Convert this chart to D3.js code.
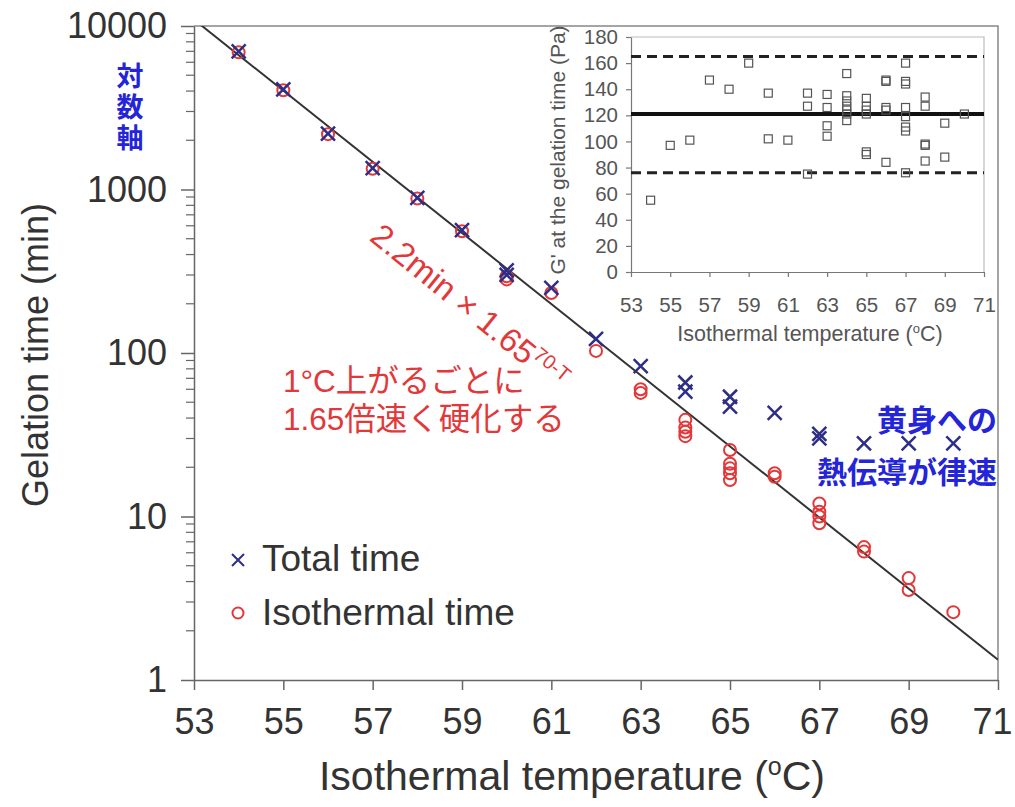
<!DOCTYPE html>
<html>
<head>
<meta charset="utf-8">
<script src="https://cdn.jsdelivr.net/npm/d3@7"></script>
<style>
  body { margin: 0; background: #fff; }
  text { font-family: "Liberation Sans", Arial, "Noto Sans CJK JP", sans-serif; }
  .axis text { fill: #333; }
  .axis path, .axis line { stroke: #666; stroke-width: 1.5; }
  .inset .axis text { fill: #555; }
  .inset .axis path, .inset .axis line { stroke: #777; stroke-width: 1.2; }
</style>
</head>
<body>
<svg class="gel"></svg>
<script>
// gelation time (min) for each run
let totalTemp = [54, 55, 56, 57, 58, 59, 60, 60, 61, 62, 63, 64, 64, 65, 65, 66, 67, 67, 68, 69, 70]
let totalTime = [7000, 4100, 2200, 1350, 890, 565, 320, 300, 250, 122, 83, 66, 58, 54, 47, 43, 32, 30, 28, 28, 28]

let isoTemp = [54, 55, 56, 57, 58, 59, 60, 60, 61, 62, 63, 63, 64, 64, 64, 64, 65, 65, 65, 65, 65, 66, 66, 67, 67, 67, 67, 68, 68, 69, 69, 70]
let isoTime = [6900, 4050, 2180, 1340, 880, 555, 295, 282, 233, 103, 60, 57, 39, 35, 33, 31, 25.5, 21, 19.7, 18.4, 16.7, 18.4, 17.5, 12, 10.7, 10, 9.1, 6.5, 6.1, 4.2, 3.55, 2.6]

// fitted line 2.2min x 1.65^(70-T), its two end points
let fitTemp = [53, 71]
let fitTime = [10950, 1.33]

let xTicks = [53, 55, 57, 59, 61, 63, 65, 67, 69, 71]
let yTicks = [1, 10, 100, 1000, 10000]

// inset: G' at the gelation time (Pa)
let gTemp = [54, 55, 56, 57, 58, 59, 60, 60, 61, 62, 62, 62, 63, 63, 63, 63,
  64, 64, 64, 64, 64, 64, 64, 65, 65, 65, 65, 65, 65, 66, 66, 66, 66, 66,
  67, 67, 67, 67, 67, 67, 67, 67, 68, 68, 68, 68, 68, 69, 69, 70]
let gValue = [55, 97, 101, 147, 140, 160, 137, 102, 101, 137, 127, 75, 136, 126, 112, 104,
  152, 135, 131, 127, 124, 121, 116, 133, 127, 124, 121, 92, 90, 147, 146, 126, 124, 84,
  160, 146, 144, 126, 119, 111, 108, 76, 134, 127, 98, 97, 85, 114, 88, 121]
let gMean = 121
let gBounds = [165, 76]
let gTicksY = [0, 20, 40, 60, 80, 100, 120, 140, 160, 180]

let W = 1015, H = 807
let margin = { top: 26, right: 17, bottom: 127, left: 194 }

let svg = d3.select('.gel').attr('width', W).attr('height', H)

let x = d3.scaleLinear().domain([53, 71]).range([margin.left, W - margin.right])
let y = d3.scaleLog().domain([1, 10000]).range([H - margin.bottom, margin.top])

let navy = '#2e2e86', red = '#e2383a', blue = '#2424d8'

// clip for the fit line
svg.append('clipPath').attr('id', 'plotclip')
  .append('rect')
  .attr('x', x(53)).attr('y', y(10000))
  .attr('width', x(71) - x(53)).attr('height', y(1) - y(10000))

// frame (top and right)
svg.append('path')
  .attr('d', `M${x(53)},${y(10000)}H${x(71)}V${y(1)}`)
  .attr('fill', 'none').attr('stroke', '#888').attr('stroke-width', 1.5)

// axes
let xAxis = svg.append('g').attr('class', 'axis x')
  .attr('transform', 'translate(0,' + y(1) + ')')
  .call(d3.axisBottom(x).tickValues(xTicks).tickSize(10).tickPadding(18).tickSizeOuter(0))
xAxis.selectAll('text').attr('font-size', 36)
  .attr('dx', d => d === 71 ? -6 : 0)

svg.append('g').attr('class', 'axis y')
  .attr('transform', 'translate(' + x(53) + ',0)')
  .call(d3.axisLeft(y).tickValues(yTicks).tickFormat(d3.format('d')).tickSize(13).tickPadding(14).tickSizeOuter(0))
  .selectAll('text').attr('font-size', 36)

// minor log ticks
let minor = []
yTicks.slice(0, -1).forEach(d => { for (let k = 2; k < 10; k++) minor.push(d * k) })
svg.append('g').selectAll('line').data(minor).enter().append('line')
  .attr('x1', x(53) - 8).attr('x2', x(53))
  .attr('y1', d => y(d)).attr('y2', d => y(d))
  .attr('stroke', '#666').attr('stroke-width', 1.2)

// axis titles
svg.append('text')
  .attr('transform', 'translate(35,355) rotate(-90)')
  .attr('text-anchor', 'middle').attr('dy', '0.35em')
  .attr('font-size', 36).attr('fill', '#333')
  .text('Gelation time (min)')

let xTitle = svg.append('text')
  .attr('x', 572).attr('y', 790)
  .attr('text-anchor', 'middle')
  .attr('font-size', 41).attr('fill', '#333')
xTitle.append('tspan').text('Isothermal temperature (')
xTitle.append('tspan').attr('font-size', 25).attr('dy', -15).text('o')
xTitle.append('tspan').attr('dy', 15).text('C)')

// fit line
svg.append('path')
  .datum(fitTemp.map((t, i) => [t, fitTime[i]]))
  .attr('clip-path', 'url(#plotclip)')
  .attr('d', d3.line().x(d => x(d[0])).y(d => y(d[1])))
  .attr('fill', 'none').attr('stroke', '#333').attr('stroke-width', 2)

// isothermal time circles
svg.append('g').selectAll('circle')
  .data(isoTemp.map((t, i) => ({ t: t, v: isoTime[i] })))
  .enter().append('circle')
  .attr('cx', d => x(d.t)).attr('cy', d => y(d.v)).attr('r', 6)
  .attr('fill', 'none').attr('stroke', red).attr('stroke-width', 2)

// total time crosses
let cross = 'M-7,-7L7,7M-7,7L7,-7'
svg.append('g').selectAll('path')
  .data(totalTemp.map((t, i) => ({ t: t, v: totalTime[i] })))
  .enter().append('path')
  .attr('transform', d => 'translate(' + x(d.t) + ',' + y(d.v) + ')')
  .attr('d', cross)
  .attr('fill', 'none').attr('stroke', navy).attr('stroke-width', 2.5)

// legend
svg.append('path').attr('transform', 'translate(238,560)')
  .attr('d', 'M-6,-6L6,6M-6,6L6,-6').attr('stroke', navy).attr('stroke-width', 2)
svg.append('circle').attr('cx', 238).attr('cy', 613).attr('r', 5.5)
  .attr('fill', 'none').attr('stroke', red).attr('stroke-width', 2)
svg.append('text').attr('x', 262).attr('y', 571).attr('font-size', 37).attr('fill', '#333').text('Total time')
svg.append('text').attr('x', 262).attr('y', 625).attr('font-size', 37).attr('fill', '#333').text('Isothermal time')

// annotations
;['対', '数', '軸'].forEach((c, i) => {
  svg.append('text').attr('x', 130).attr('y', 86 + i * 31)
    .attr('text-anchor', 'middle').attr('font-size', 27).attr('font-weight', 'bold')
    .attr('fill', blue).text(c)
})

let formula = svg.append('text')
  .attr('transform', 'translate(453,294) rotate(39)')
  .attr('font-size', 33).attr('fill', red)
formula.append('tspan').attr('x', -100).attr('y', 11).text('2.2min \u00D7 1.65')
formula.append('tspan').attr('font-size', 20).attr('dy', -12).text('70-T')

svg.append('text').attr('x', 283).attr('y', 392).attr('font-size', 31.5).attr('fill', red).text('1°C上がるごとに')
svg.append('text').attr('x', 283).attr('y', 430).attr('font-size', 31.5).attr('fill', red).text('1.65倍速く硬化する')

svg.append('text').attr('x', 997).attr('y', 431).attr('text-anchor', 'end')
  .attr('font-size', 30).attr('font-weight', 'bold').attr('fill', blue).text('黄身への')
svg.append('text').attr('x', 997).attr('y', 483).attr('text-anchor', 'end')
  .attr('font-size', 30).attr('font-weight', 'bold').attr('fill', blue).text('熱伝導が律速')

// ---- inset ----
let inset = svg.append('g').attr('class', 'inset')
let gx = d3.scaleLinear().domain([53, 71]).range([631, 984])
let gy = d3.scaleLinear().domain([0, 180]).range([272, 37])

inset.append('path')
  .attr('d', `M${gx(53)},${gy(180)}H${gx(71)}V${gy(0)}`)
  .attr('fill', 'none').attr('stroke', '#bbb').attr('stroke-width', 1.2)

inset.append('g').attr('class', 'axis')
  .attr('transform', 'translate(0,' + gy(0) + ')')
  .call(d3.axisBottom(gx).tickValues(xTicks).tickSize(5).tickPadding(20).tickSizeOuter(0))
  .selectAll('text').attr('font-size', 20.5)

inset.append('g').attr('class', 'axis')
  .attr('transform', 'translate(' + gx(53) + ',0)')
  .call(d3.axisLeft(gy).tickValues(gTicksY).tickSize(5).tickPadding(8).tickSizeOuter(0))
  .selectAll('text').attr('font-size', 20.5)

inset.append('text')
  .attr('transform', 'translate(558,150) rotate(-90)')
  .attr('text-anchor', 'middle').attr('dy', '0.35em')
  .attr('font-size', 21).attr('fill', '#555')
  .text("G' at the gelation time (Pa)")

let gTitle = inset.append('text')
  .attr('x', 810).attr('y', 341).attr('text-anchor', 'middle')
  .attr('font-size', 21.5).attr('fill', '#555')
gTitle.append('tspan').text('Isothermal temperature (')
gTitle.append('tspan').attr('font-size', 13).attr('dy', -8).text('o')
gTitle.append('tspan').attr('dy', 8).text('C)')

// mean and bounds
inset.append('line')
  .attr('x1', gx(53)).attr('x2', gx(71)).attr('y1', gy(gMean)).attr('y2', gy(gMean))
  .attr('stroke', '#111').attr('stroke-width', 4)
inset.selectAll('.bound').data(gBounds).enter().append('line')
  .attr('class', 'bound')
  .attr('x1', gx(53)).attr('x2', gx(71)).attr('y1', d => gy(d)).attr('y2', d => gy(d))
  .attr('stroke', '#222').attr('stroke-width', 3).attr('stroke-dasharray', '10,6')

inset.selectAll('.sq').data(gTemp.map((t, i) => ({ t: t, v: gValue[i] })))
  .enter().append('rect').attr('class', 'sq')
  .attr('x', d => gx(d.t) - 4).attr('y', d => gy(d.v) - 4)
  .attr('width', 8).attr('height', 8)
  .attr('fill', 'none').attr('stroke', '#555').attr('stroke-width', 1.2)
</script>
</body>
</html>
